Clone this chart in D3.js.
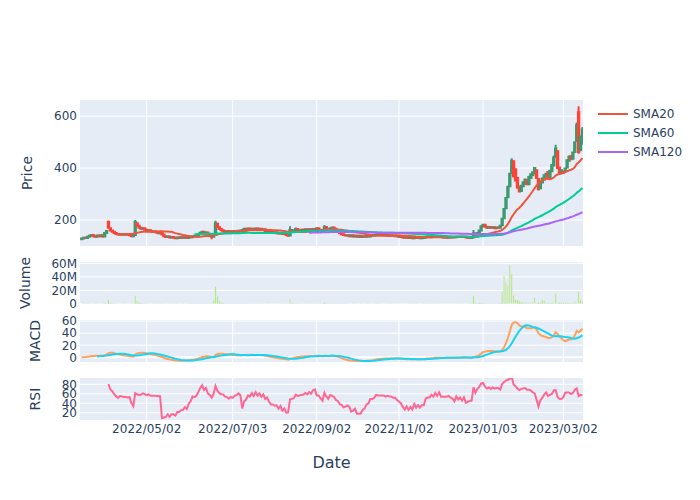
<!DOCTYPE html>
<html><head><meta charset="utf-8">
<script src="https://cdn.jsdelivr.net/npm/d3@7"></script>
<style>body{margin:0;background:#fff}svg{font-family:"DejaVu Sans",sans-serif}</style>
</head><body><svg id="c" width="700" height="500"></svg>
<script>
// ---------------- DATA ----------------
const firstDate = "2022-03-15", lastDate = "2023-03-16"; // trading days (weekdays)
const open = [
126,129,132,131,
136,139,142,138,136, 140,138,141,137,150, 192,168,160,155,150, 146,144,146,143,145,
143,144,141,138,142, 188,178,170,166,168, 163,160,161,157,155, 156,152,149,150,144,
138,135,137,133,135, 132,130,133,131,134, 132,134,131,135,134, 138,139,137,146,151,
155,150,152,145,140, 136,143,186,172,165, 161,158,155,158,154, 157,155,158,155,159,
157,162,166,163,167, 162,166,163,167,163, 166,162,164,158,159, 155,154,151,153,149,
148,150,146,147,142, 140,162,157,160,165, 161,159,163,160,164, 162,164,161,165,164,
168,163,160,160,173, 164,162,168,171,166, 160,154,149,145,142, 140,141,138,141,137,
139,136,139,135,138, 136,139,137,141,139, 142,144,146,142,144, 141,142,139,141,139,
140,138,139,135,136, 133,132,133,131,132, 130,133,131,132,130, 131,132,135,137,134,
136,135,137,135,137, 135,133,134,132,134, 133,135,134,136,135, 136,135,136,133,132,
131,133,148,143,150, 160,176,182,174,170, 173,170,172,168,171, 170,180,207,245,288,
330,380,426,395,362, 328,312,330,340,354, 338,362,372,380,392, 358,322,344,355,368,
385,362,388,410,445, 465,402,380,386,390, 402,428,446,436,462, 505,615,470,515];
const high = [
130,133,134,137,
140,143,143,139,141, 141,142,142,152,160, 198,170,161,156,151, 147,147,147,146,146,
145,145,142,141,200, 190,179,171,169,169, 164,162,162,158,157, 157,153,151,151,145,
139,138,138,136,136, 133,134,134,135,135, 135,135,136,136,139, 140,141,147,152,157,
157,153,153,146,141, 144,197,188,173,166, 162,159,159,159,158, 158,159,159,160,160,
163,167,167,168,168, 167,167,168,168,167, 167,165,165,160,160, 156,155,154,154,150,
150,151,148,148,143, 176,163,161,171,166, 162,164,164,165,165, 165,165,166,166,169,
169,164,162,181,174, 165,170,173,172,167, 161,155,150,146,143, 142,142,142,142,140,
140,140,140,139,139, 140,140,142,142,143, 145,147,147,145,145, 143,143,142,142,141,
141,140,140,137,137, 134,134,134,133,133, 134,134,133,133,132, 133,136,138,138,137,
137,138,138,138,138, 136,135,135,135,135, 136,136,137,137,137, 137,137,137,134,133,
133,162,149,152,163, 180,186,183,175,174, 175,174,173,172,172, 180,209,246,289,332,
382,438,430,398,366, 330,335,348,360,356, 370,380,388,404,395, 360,349,363,375,382,
388,393,415,448,490, 468,405,395,390,400, 433,448,450,464,503, 575,638,525,558];
const low = [
125,128,130,130,
135,138,137,135,135, 137,137,136,136,149, 166,158,153,148,145, 143,143,142,142,142,
142,140,137,137,141, 175,168,164,165,162, 159,159,156,154,154, 151,148,148,143,137,
134,134,132,132,131, 129,129,130,130,131, 131,130,130,133,133, 137,136,136,145,150,
149,149,144,139,126, 134,142,168,162,159, 157,154,154,153,153, 154,154,154,154,156,
156,161,162,162,161, 161,162,162,162,162, 161,161,157,157,154, 153,150,150,148,147,
147,145,145,141,138, 139,155,156,159,160, 158,158,159,159,161, 161,160,160,163,163,
162,159,159,159,162, 160,161,167,165,158, 153,148,144,141,139, 139,137,137,136,136,
135,135,134,134,135, 135,136,136,138,138, 141,143,141,141,140, 140,138,138,138,138,
137,137,134,134,132, 131,131,130,130,129, 129,130,130,129,129, 130,131,134,133,133,
134,134,134,134,134, 132,132,131,131,132, 132,133,133,134,134, 134,134,132,131,130,
130,132,141,142,149, 159,174,172,168,169, 168,169,166,167,168, 169,178,205,243,286,
326,376,364,348,320, 306,310,328,338,335, 336,360,370,378,358, 314,320,342,353,366,
356,360,386,406,440, 398,374,378,380,386, 400,424,430,432,458, 500,455,465,490];
const close = [
129,132,131,136,
139,142,138,136,140, 138,141,137,150,158, 170,160,155,150,146, 144,146,143,145,143,
144,141,138,140,192, 178,170,166,168,163, 160,161,157,155,156, 152,149,150,144,138,
135,137,133,135,132, 130,133,131,134,132, 134,131,135,134,138, 139,137,146,151,155,
150,152,145,140,136, 142,188,172,165,161, 158,155,158,154,157, 155,158,155,159,157,
162,166,163,167,162, 166,163,167,163,166, 162,164,158,159,155, 154,151,153,149,148,
150,146,147,142,139, 162,157,160,165,161, 159,163,160,164,162, 164,161,165,164,168,
163,160,161,173,164, 162,168,171,166,160, 154,149,145,142,140, 141,138,141,137,139,
136,139,135,138,136, 139,137,141,139,142, 144,146,142,144,141, 142,139,141,139,140,
138,139,135,136,133, 132,133,131,132,130, 133,131,132,130,131, 132,135,137,134,136,
135,137,135,137,135, 133,134,132,134,133, 135,134,136,135,136, 135,136,133,132,131,
132,148,143,150,160, 176,182,174,170,173, 170,172,168,171,170, 178,205,242,285,328,
378,428,368,352,325, 310,332,345,356,338, 366,376,384,400,362, 318,346,360,372,378,
360,390,412,440,475, 400,378,392,382,398, 430,444,434,460,498, 565,462,520,548];
const volumeM = [
0.3,0.4,0.3,0.5,
0.4,0.3,0.3,0.4,0.3, 0.3,0.3,0.4,1.2,2.0, 6.0,1.5,0.8,0.5,0.4, 0.3,0.3,0.3,0.4,0.3,
0.3,0.3,0.4,0.3,12.5, 4.5,3.0,1.5,0.8,0.5, 0.4,0.3,0.3,0.3,0.4, 0.3,0.4,0.3,0.5,0.4,
0.3,0.3,0.4,0.3,0.3, 0.3,0.4,0.3,0.3,0.4, 0.3,0.4,0.5,0.6,0.7, 0.8,0.9,1.0,1.2,0.8,
0.6,0.5,0.6,0.8,1.0, 6.0,26.0,11.5,5.0,3.0, 1.5,1.0,0.8,0.6,0.5, 0.5,0.6,0.4,0.5,0.5,
0.8,1.0,0.6,0.5,0.4, 0.4,0.4,0.5,0.4,0.4, 0.4,0.3,0.3,0.4,0.3, 0.3,0.3,0.3,0.4,0.3,
0.3,0.4,0.3,0.5,0.6, 7.5,2.0,0.8,1.2,0.6, 0.4,0.4,0.3,0.4,0.3, 0.4,0.3,0.4,0.5,0.6,
0.5,0.4,0.4,2.5,1.0, 0.6,1.0,1.2,0.6,0.5, 0.5,0.6,0.5,0.4,0.4, 0.4,0.3,0.3,0.4,0.3,
0.3,0.3,0.4,0.3,0.3, 0.3,0.4,0.3,0.3,0.4, 0.4,0.5,0.4,0.3,0.3, 0.3,0.3,0.4,0.3,0.3,
0.3,0.3,0.4,0.3,0.3, 0.3,0.3,0.3,0.4,0.3, 0.3,0.4,0.3,0.3,0.3, 0.4,1.0,0.5,0.4,0.3,
0.3,0.4,0.3,0.3,0.3, 0.3,0.3,0.4,0.3,0.3, 0.3,0.3,0.3,0.4,0.3, 0.3,0.3,0.3,0.3,0.4,
0.4,12.0,1.5,1.2,2.0, 2.0,1.5,1.0,0.8,0.7, 0.6,0.7,0.5,0.6,0.8, 1.5,18.5,42.0,32.0,28.0,
58.0,45.0,13.5,7.5,6.0, 5.0,3.5,2.5,3.0,2.0, 2.5,2.0,3.0,10.0,2.5, 2.5,2.0,6.0,5.0,2.5,
2.0,2.5,3.0,2.0,16.0, 3.0,2.5,2.0,2.0,2.5, 2.0,2.5,2.0,2.0,4.0, 3.0,19.0,6.5,3.0];
const smaWindows = [20, 60, 120];
const smaNames = ["SMA20", "SMA60", "SMA120"];
const tickDates = ["2022-05-02","2022-07-03","2022-09-02","2022-11-02","2023-01-03","2023-03-02"];
const tickLabels = ["2022/05/02","2022/07/03","2022/09/02","2022/11/02","2023/01/03","2023/03/02"];
const priceTicks = [200, 400, 600];
const volTicks = [0, 20, 40, 60];
const volTickLabels = ["0", "20M", "40M", "60M"];
const macdTicks = [0, 20, 40, 60];
const rsiTicks = [20, 40, 60, 80];

// ---------------- DERIVED (indicators) ----------------
const parse = d3.utcParse("%Y-%m-%d");
const dates = [];
for (let d = parse(firstDate); d <= parse(lastDate); d = d3.utcDay.offset(d, 1)) {
  const wd = d.getUTCDay(); if (wd !== 0 && wd !== 6) dates.push(d);
}
const N = dates.length;
if ([open, high, low, close, volumeM].some(a => a.length !== N)) console.error("length mismatch", N, open.length, high.length, low.length, close.length, volumeM.length);

function sma(a, n) { return a.map((v, i) => i < n - 1 ? null : d3.mean(a.slice(i - n + 1, i + 1))); }
function ema(a, span) { const k = 2 / (span + 1); const out = []; a.forEach((v, i) => out.push(i === 0 ? v : k * v + (1 - k) * out[i - 1])); return out; }
const smas = smaWindows.map(n => sma(close, n));
const e12 = ema(close, 12), e26 = ema(close, 26);
const macd = e12.map((v, i) => v - e26[i]);
const signal = sma(macd, 9);
const rsi = close.map((c, i) => {
  if (i < 14) return null;
  let g = 0, l = 0;
  for (let j = i - 13; j <= i; j++) { const d = close[j] - close[j - 1]; if (d > 0) g += d; else l -= d; }
  return l === 0 ? 100 : 100 - 100 / (1 + g / l);
});

// ---------------- LAYOUT ----------------
const svg = d3.select("#c");
const L = 80, R = 583;
const BG = "#E5ECF6", TXT = "#2a3f5f";
const x = d3.scaleLinear().domain([-0.9, 262.3]).range([L, R]);
const step = x(1) - x(0);
const tickIdx = tickDates.map(t => { const td = parse(t); return dates.findIndex(d => d >= td); });

const panels = {
  price: { top: 100, bottom: 246, domain: [100, 662], ticks: priceTicks, labels: priceTicks.map(String), title: "Price", titleX: 27, vgrid: true },
  vol:   { top: 262, bottom: 304, domain: [0, 62], ticks: volTicks, labels: volTickLabels, title: "Volume", titleX: 25, vgrid: false },
  macd:  { top: 320, bottom: 362, domain: [-7.8, 61.7], ticks: macdTicks, labels: macdTicks.map(String), title: "MACD", titleX: 35, vgrid: true, zero: true },
  rsi:   { top: 378, bottom: 420, domain: [4.6, 93.3], ticks: rsiTicks, labels: rsiTicks.map(String), title: "RSI", titleX: 35, vgrid: true }
};
const defs = svg.append("defs");
Object.entries(panels).forEach(([k, p]) => {
  p.y = d3.scaleLinear().domain(p.domain).range([p.bottom, p.top]);
  svg.append("rect").attr("x", L).attr("y", p.top).attr("width", R - L).attr("height", p.bottom - p.top).attr("fill", BG);
  defs.append("clipPath").attr("id", "clip-" + k).append("rect").attr("x", L).attr("y", p.top).attr("width", R - L).attr("height", p.bottom - p.top);
  if (p.vgrid) tickIdx.forEach(i => svg.append("line").attr("x1", x(i)).attr("x2", x(i)).attr("y1", p.top).attr("y2", p.bottom).attr("stroke", "#fff").attr("stroke-width", 1));
  p.ticks.forEach((t, j) => {
    const yy = p.y(t);
    if (!(p.zero && t === 0) && !(k === "vol" && t === 0))
      svg.append("line").attr("x1", L).attr("x2", R).attr("y1", yy).attr("y2", yy).attr("stroke", "#fff").attr("stroke-width", 1);
    svg.append("text").attr("x", L - 3).attr("y", yy).attr("dy", "0.36em").attr("text-anchor", "end")
      .attr("font-size", 12).attr("fill", TXT).text(p.labels[j]);
  });
  if (p.zero) svg.append("line").attr("x1", L).attr("x2", R).attr("y1", p.y(0)).attr("y2", p.y(0)).attr("stroke", "#fff").attr("stroke-width", 2);
  const cy = (p.top + p.bottom) / 2;
  svg.append("text").attr("transform", `translate(${p.titleX},${cy}) rotate(-90)`).attr("dy", "0.36em")
    .attr("text-anchor", "middle").attr("font-size", 14).attr("fill", TXT).text(p.title);
});
svg.append("line").attr("x1", L).attr("x2", R).attr("y1", panels.vol.bottom).attr("y2", panels.vol.bottom).attr("stroke", "#fff").attr("stroke-width", 2);

// x tick labels (bottom panel) and title
tickIdx.forEach((i, j) => svg.append("text").attr("x", x(i)).attr("y", 433).attr("text-anchor", "middle")
  .attr("font-size", 12).attr("fill", TXT).text(tickLabels[j]));
svg.append("text").attr("x", (L + R) / 2).attr("y", 468).attr("text-anchor", "middle").attr("font-size", 16).attr("fill", TXT).text("Date");

// ---------------- PRICE ----------------
const INC = "#3D9970", DEC = "#FF4136";
const P = panels.price;
const gp = svg.append("g").attr("clip-path", "url(#clip-price)");
const bw = step * 0.7;
d3.range(N).forEach(i => {
  const up = close[i] > open[i];
  const col = up ? INC : DEC;
  const cx = x(i);
  const yTop = P.y(Math.max(open[i], close[i])), yBot = P.y(Math.min(open[i], close[i]));
  gp.append("path")
    .attr("d", `M${cx},${P.y(high[i])}V${yTop}M${cx - bw / 2},${yTop}H${cx + bw / 2}V${yBot}H${cx - bw / 2}Z M${cx},${yBot}V${P.y(low[i])}`)
    .attr("stroke", col).attr("stroke-width", 2).attr("fill", up ? "rgba(61,153,112,0.5)" : "rgba(255,65,54,0.5)");
});
const smaColors = ["#EF553B", "#00CC96", "#AB63FA"];
smas.forEach((s, k) => {
  gp.append("path").datum(s).attr("fill", "none").attr("stroke", smaColors[k]).attr("stroke-width", 2)
    .attr("d", d3.line().defined(v => v !== null).x((v, i) => x(i)).y(v => P.y(v)));
});

// ---------------- VOLUME ----------------
const V = panels.vol;
const gv = svg.append("g").attr("clip-path", "url(#clip-vol)");
gv.selectAll("rect").data(volumeM).join("rect")
  .attr("x", (v, i) => x(i) - step * 0.4).attr("width", step * 0.8)
  .attr("y", v => V.y(v)).attr("height", v => V.y(0) - V.y(v))
  .attr("fill", "#B6E880").attr("stroke", BG).attr("stroke-width", 0.5);

// ---------------- MACD ----------------
const M = panels.macd;
const gm = svg.append("g").attr("clip-path", "url(#clip-macd)");
[[macd, "#FFA15A"], [signal, "#19D3F3"]].forEach(([s, c]) => {
  gm.append("path").datum(s).attr("fill", "none").attr("stroke", c).attr("stroke-width", 2)
    .attr("d", d3.line().defined(v => v !== null).x((v, i) => x(i)).y(v => M.y(v)));
});

// ---------------- RSI ----------------
const RS = panels.rsi;
svg.append("g").attr("clip-path", "url(#clip-rsi)").append("path").datum(rsi)
  .attr("fill", "none").attr("stroke", "#FF6692").attr("stroke-width", 2)
  .attr("d", d3.line().defined(v => v !== null).x((v, i) => x(i)).y(v => RS.y(v)));

// ---------------- LEGEND ----------------
smaNames.forEach((n, k) => {
  const ly = 114 + k * 19;
  svg.append("line").attr("x1", 598).attr("x2", 628).attr("y1", ly).attr("y2", ly).attr("stroke", smaColors[k]).attr("stroke-width", 2);
  svg.append("text").attr("x", 633).attr("y", ly).attr("dy", "0.36em").attr("font-size", 12).attr("fill", TXT).text(n);
});
</script></body></html>
